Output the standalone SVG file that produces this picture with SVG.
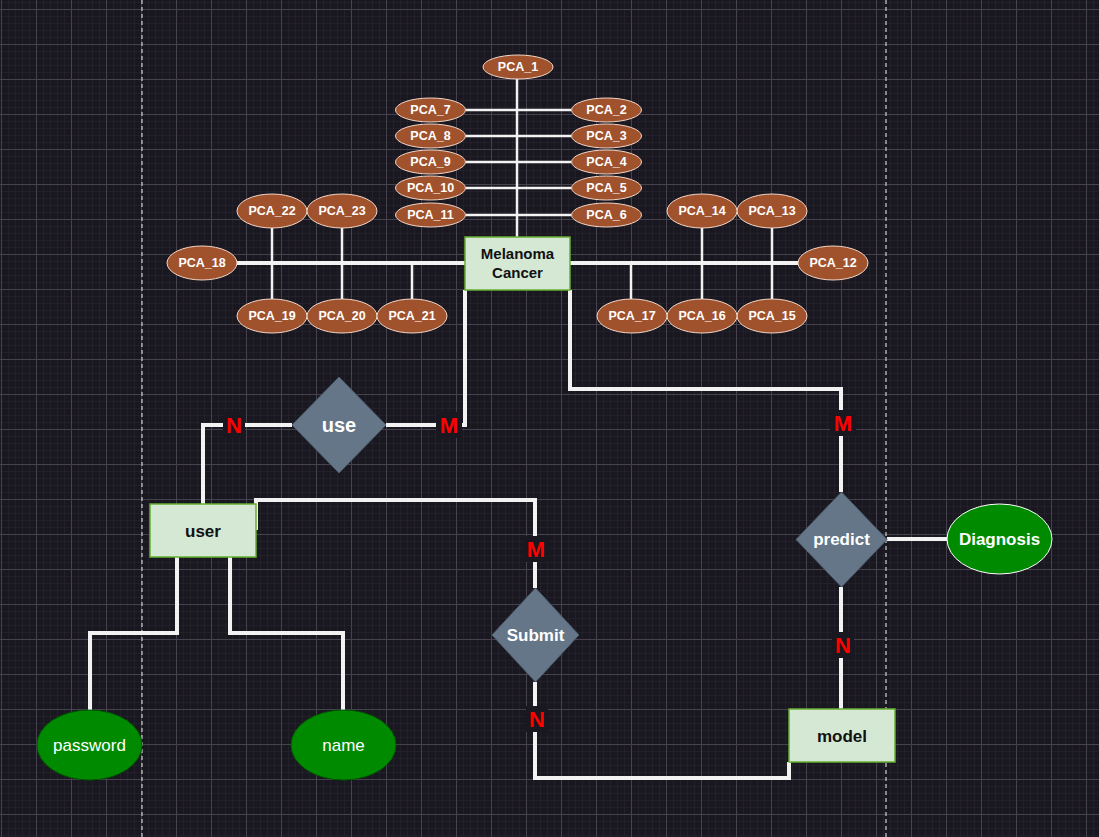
<svg xmlns="http://www.w3.org/2000/svg" width="1099" height="837" viewBox="0 0 1099 837">
<defs>
<pattern id="minor" x="1" y="9" width="7" height="7" patternUnits="userSpaceOnUse">
<path d="M0 0 H7 M0 0 V7" stroke="#2b2833" stroke-width="1" fill="none"/>
</pattern>
<pattern id="major" x="1" y="9" width="35" height="35" patternUnits="userSpaceOnUse">
<path d="M0 0.5 H35 M0.5 0 V35" stroke="#45414d" stroke-width="1" fill="none"/>
</pattern>
<style>
.pca ellipse{fill:#a0522d;stroke:#f2d6c8;stroke-width:1}
.pca text,.t{font-family:"Liberation Sans",Arial,sans-serif;font-weight:bold;text-anchor:middle;dominant-baseline:central}
.pca text{fill:#ffffff;font-size:12.5px}
.ent rect{fill:#d5e8d4;stroke:#66b032;stroke-width:1.5}
.ent text{fill:#111111;font-size:17px}
.rel polygon{fill:#647687;stroke:#4d5d6d;stroke-width:1}
.rel text{fill:#ffffff;font-size:17px}
.attr ellipse{fill:#008a00;stroke:#005700;stroke-width:1}
.attr text{fill:#ffffff;font-size:17px;font-weight:normal}
.ln{fill:none;stroke:#f2f2f2;stroke-width:4}
.ln2{fill:none;stroke:#f2f2f2;stroke-width:2.5}
.card rect{fill:#19171f}
.card text{fill:#ff0000;font-size:22px}
</style>
</defs>
<rect width="1099" height="837" fill="#19171f"/>
<rect width="1099" height="837" fill="url(#minor)"/>
<rect width="1099" height="837" fill="url(#major)"/>
<line x1="142" y1="0" x2="142" y2="837" stroke="#cfcfcf" stroke-width="1.2" stroke-dasharray="4 3"/>
<line x1="886" y1="0" x2="886" y2="837" stroke="#cfcfcf" stroke-width="1.2" stroke-dasharray="4 3"/>

<g id="connectors">
<path class="ln2" d="M517 79 V237"/>
<path class="ln2" d="M466 110 H571 M466 136 H571 M466 162 H571 M466 188 H571 M466 215 H571"/>
<path class="ln" d="M237 263 H465 M570 263 H798"/>
<path class="ln2" d="M272 223 V304 M342 223 V304 M412 263 V304"/>
<path class="ln2" d="M631 263 V304 M702 223 V304 M772 223 V304"/>
<path class="ln" d="M203 504 V425 H292"/>
<path class="ln" d="M386 425 H465 V290"/>
<path class="ln" d="M570 290 V389 H841 V492"/>
<path class="ln" d="M256 530 V500 H535 V588"/>
<path class="ln" d="M535 682 V778 H789 V762"/>
<path class="ln" d="M841 709 V587"/>
<path class="ln" d="M887 539 H947"/>
<path class="ln" d="M177 557 V633 H90 V710"/>
<path class="ln" d="M230 557 V633 H343 V710"/>
<g class="card">
<rect x="223" y="412" width="22" height="26"/><text class="t" x="234" y="425">N</text>
<rect x="436" y="412" width="26" height="26"/><text class="t" x="449" y="425">M</text>
<rect x="830" y="410" width="26" height="26"/><text class="t" x="843" y="423">M</text>
<rect x="523" y="536" width="26" height="26"/><text class="t" x="536" y="549">M</text>
<rect x="526" y="706" width="22" height="26"/><text class="t" x="537" y="719">N</text>
<rect x="832" y="632" width="22" height="26"/><text class="t" x="843" y="645">N</text>
</g>
</g>

<g id="pca_1" class="pca"><ellipse cx="518" cy="67" rx="35" ry="12"/><text x="518" y="67">PCA_1</text></g>
<g id="pca_2" class="pca"><ellipse cx="606.5" cy="110" rx="35" ry="12"/><text x="606.5" y="110">PCA_2</text></g>
<g id="pca_3" class="pca"><ellipse cx="606.5" cy="136" rx="35" ry="12"/><text x="606.5" y="136">PCA_3</text></g>
<g id="pca_4" class="pca"><ellipse cx="606.5" cy="162" rx="35" ry="12"/><text x="606.5" y="162">PCA_4</text></g>
<g id="pca_5" class="pca"><ellipse cx="606.5" cy="188" rx="35" ry="12"/><text x="606.5" y="188">PCA_5</text></g>
<g id="pca_6" class="pca"><ellipse cx="606.5" cy="215" rx="35" ry="12"/><text x="606.5" y="215">PCA_6</text></g>
<g id="pca_7" class="pca"><ellipse cx="430.5" cy="110" rx="35" ry="12"/><text x="430.5" y="110">PCA_7</text></g>
<g id="pca_8" class="pca"><ellipse cx="430.5" cy="136" rx="35" ry="12"/><text x="430.5" y="136">PCA_8</text></g>
<g id="pca_9" class="pca"><ellipse cx="430.5" cy="162" rx="35" ry="12"/><text x="430.5" y="162">PCA_9</text></g>
<g id="pca_10" class="pca"><ellipse cx="430.5" cy="188" rx="35" ry="12"/><text x="430.5" y="188">PCA_10</text></g>
<g id="pca_11" class="pca"><ellipse cx="430.5" cy="215" rx="35" ry="12"/><text x="430.5" y="215">PCA_11</text></g>
<g id="pca_12" class="pca"><ellipse cx="833" cy="263" rx="35" ry="17"/><text x="833" y="263">PCA_12</text></g>
<g id="pca_13" class="pca"><ellipse cx="772" cy="211" rx="35" ry="17"/><text x="772" y="211">PCA_13</text></g>
<g id="pca_14" class="pca"><ellipse cx="702" cy="211" rx="35" ry="17"/><text x="702" y="211">PCA_14</text></g>
<g id="pca_15" class="pca"><ellipse cx="772" cy="316" rx="35" ry="17"/><text x="772" y="316">PCA_15</text></g>
<g id="pca_16" class="pca"><ellipse cx="702" cy="316" rx="35" ry="17"/><text x="702" y="316">PCA_16</text></g>
<g id="pca_17" class="pca"><ellipse cx="632" cy="316" rx="35" ry="17"/><text x="632" y="316">PCA_17</text></g>
<g id="pca_18" class="pca"><ellipse cx="202" cy="263" rx="35" ry="17"/><text x="202" y="263">PCA_18</text></g>
<g id="pca_19" class="pca"><ellipse cx="272" cy="316" rx="35" ry="17"/><text x="272" y="316">PCA_19</text></g>
<g id="pca_20" class="pca"><ellipse cx="342" cy="316" rx="35" ry="17"/><text x="342" y="316">PCA_20</text></g>
<g id="pca_21" class="pca"><ellipse cx="412" cy="316" rx="35" ry="17"/><text x="412" y="316">PCA_21</text></g>
<g id="pca_22" class="pca"><ellipse cx="272" cy="211" rx="35" ry="17"/><text x="272" y="211">PCA_22</text></g>
<g id="pca_23" class="pca"><ellipse cx="342" cy="211" rx="35" ry="17"/><text x="342" y="211">PCA_23</text></g>

<g id="melanoma" class="ent"><rect x="465" y="237" width="105" height="53"/><text class="t" x="517.5" y="253" style="font-size:15px">Melanoma</text><text class="t" x="517.5" y="272" style="font-size:15px">Cancer</text></g>
<g id="user" class="ent"><rect x="150" y="504" width="106" height="53"/><text class="t" x="203" y="531">user</text></g>
<g id="model" class="ent"><rect x="789" y="709" width="106" height="53"/><text class="t" x="842" y="736">model</text></g>

<g id="use" class="rel"><polygon points="339,377 386,425 339,473 292,425"/><text class="t" x="339" y="425" style="font-size:20px">use</text></g>
<g id="submit" class="rel"><polygon points="535.5,588 579,635 535.5,682 492,635"/><text class="t" x="535.5" y="635">Submit</text></g>
<g id="predict" class="rel"><polygon points="841.5,492 887,539.5 841.5,587 796,539.5"/><text class="t" x="841.5" y="539.5">predict</text></g>

<g id="diagnosis" class="attr"><ellipse cx="999.5" cy="539" rx="52.5" ry="35" style="stroke:#ffffff"/><text class="t" x="999.5" y="539" style="font-weight:bold;font-size:17px">Diagnosis</text></g>
<g id="password" class="attr"><ellipse cx="89.5" cy="745" rx="52.5" ry="35"/><text class="t" x="89.5" y="745">password</text></g>
<g id="name" class="attr"><ellipse cx="343.5" cy="745" rx="52.5" ry="35"/><text class="t" x="343.5" y="745">name</text></g>
</svg>
